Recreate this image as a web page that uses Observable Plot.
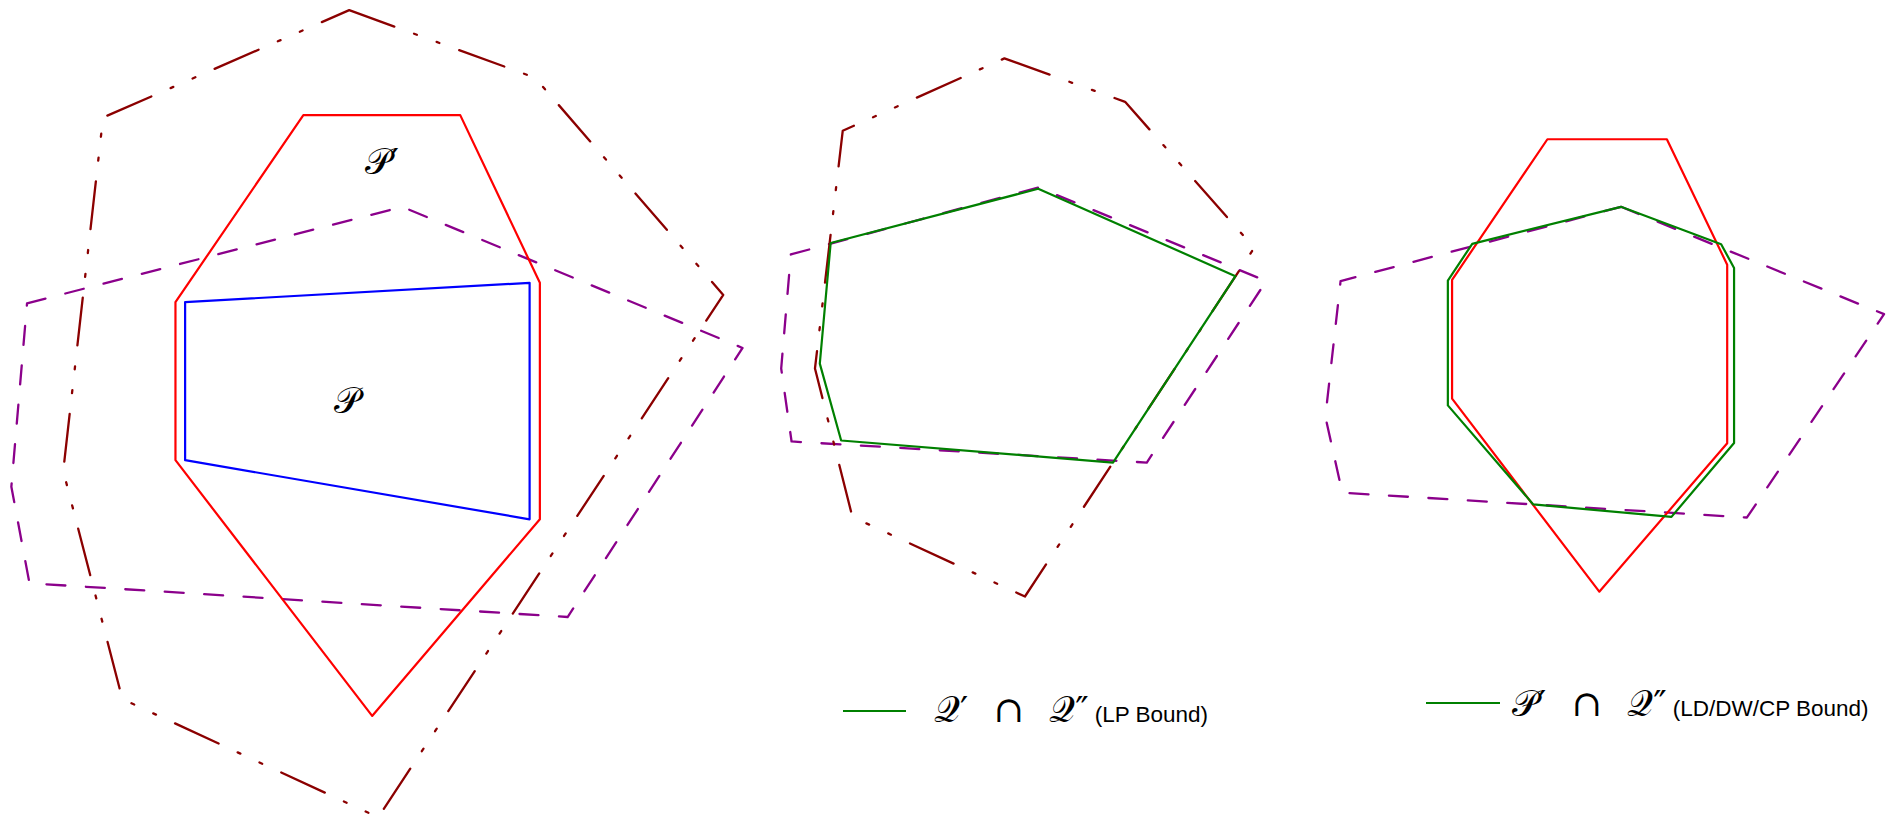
<!DOCTYPE html>
<html>
<head>
<meta charset="utf-8">
<script src="https://cdn.jsdelivr.net/npm/d3@7"></script>
<script src="https://cdn.jsdelivr.net/npm/@observablehq/plot@0.6"></script>
<style>
  html, body { margin: 0; padding: 0; background: #ffffff; }
  #wrap { position: relative; width: 1892px; height: 818px; overflow: hidden; background: #fff; }
  #wrap svg { display: block; }
  .lg-line { position: absolute; height: 2.4px; background: #008000; }
  .lg-text { position: absolute; white-space: pre; color: #000; line-height: 36px; }
  .lg-math { font-family: "DejaVu Serif", "DejaVu Sans", serif; font-size: 36px; word-spacing: 14px; }
  .lg-note { font-family: "Liberation Sans", Arial, sans-serif; font-size: 22.5px; margin-left: 6px; }
</style>
</head>
<body>
<div id="wrap"></div>
<script>
// ---- Data: polygon vertices (drawing units, x to the right, y downward) ----
// Panel 1
const p1_Qprime_x  = [289, 443, 599, 313, 101, 52, 85];          // Q' (dark red, dash-dot-dot)
const p1_Qprime_y  = [8, 64, 244, 677, 579, 390, 97];
const p1_Pprime_x  = [251, 381, 447, 447, 308, 145, 145];        // P' (red)
const p1_Pprime_y  = [95, 95, 234, 430, 593, 381, 250];
const p1_P_x       = [153, 438.5, 438.5, 153];                   // P (blue)
const p1_P_y       = [250, 234, 430, 381];
const p1_Qsecond_x = [22, 333, 615, 470, 24, 9];                 // Q'' (purple, dashed)
const p1_Qsecond_y = [251, 171, 288, 511, 483, 403];
// Panel 2
const p2_Qprime_x  = [832, 932, 1039, 849, 706, 675, 698];
const p2_Qprime_y  = [48, 84, 205, 494, 428, 305, 108];
const p2_Qsecond_x = [655, 860, 1049, 950, 655.6, 647];
const p2_Qsecond_y = [210.5, 155, 232.5, 383, 365.5, 305];
const p2_LP_x      = [860, 1023.5, 922, 696.7, 679, 688];         // Q' ∩ Q'' (green)
const p2_LP_y      = [156, 228.5, 383, 364.7, 301, 201];
// Panel 3
const p3_Pprime_x  = [1282, 1381, 1431, 1431, 1325, 1203, 1203];
const p3_Pprime_y  = [115, 115, 219, 367, 490, 330, 231.5];
const p3_Qsecond_x = [1343, 1561, 1447.4, 1112, 1098, 1110.6];
const p3_Qsecond_y = [171, 260, 428.5, 408, 345, 232.6];
const p3_LD_x      = [1343, 1426, 1436.7, 1436.7, 1384.8, 1270.3, 1199.5, 1199.5, 1219.7]; // P' ∩ Q'' (green)
const p3_LD_y      = [171, 202, 221.7, 366.7, 428, 417.7, 335.6, 232.2, 201.7];
// Labels
const labelText = ["\u{1D4AB}\u2032", "\u{1D4AB}"];
const labelX = [316, 287];
const labelY = [134, 332];
// Legend entries
const legendMath = ["\u{1D4AC}\u2032 \u2229 \u{1D4AC}\u2033", "\u{1D4AB}\u2032 \u2229 \u{1D4AC}\u2033"];
const legendNote = ["(LP Bound)", "(LD/DW/CP Bound)"];

// ---- Build tables ----
function poly(name, xs, ys) { return xs.map((x, i) => ({shape: name, x, y: ys[i]})); }
const qPrime  = [...poly("p1Q'", p1_Qprime_x, p1_Qprime_y), ...poly("p2Q'", p2_Qprime_x, p2_Qprime_y)];
const qSecond = [...poly("p1Q''", p1_Qsecond_x, p1_Qsecond_y), ...poly("p2Q''", p2_Qsecond_x, p2_Qsecond_y), ...poly("p3Q''", p3_Qsecond_x, p3_Qsecond_y)];
const pPrime  = [...poly("p1P'", p1_Pprime_x, p1_Pprime_y), ...poly("p3P'", p3_Pprime_x, p3_Pprime_y)];
const pBase   = poly("p1P", p1_P_x, p1_P_y);
const inter   = [...poly("p2LP", p2_LP_x, p2_LP_y), ...poly("p3LD", p3_LD_x, p3_LD_y)];
const labels  = labelText.map((t, i) => ({t, x: labelX[i], y: labelY[i]}));

const W = 1892, H = 818;
const chart = Plot.plot({
  width: W, height: H,
  margin: 0,
  x: {domain: [0, 1568], range: [0, W], axis: null},
  y: {domain: [0, 678], range: [0, H], axis: null},
  style: {background: "#ffffff", overflow: "visible"},
  marks: [
    Plot.line(qSecond, {x: "x", y: "y", z: "shape", curve: "linear-closed", stroke: "#8b008b", strokeWidth: 2.3, strokeDasharray: "19,20.5"}),
    Plot.line(qPrime,  {x: "x", y: "y", z: "shape", curve: "linear-closed", stroke: "#8b0000", strokeWidth: 2.3, strokeDasharray: "48,21,3,21,3,21"}),
    Plot.line(pPrime,  {x: "x", y: "y", z: "shape", curve: "linear-closed", stroke: "#ff0000", strokeWidth: 2.2}),
    Plot.line(pBase,   {x: "x", y: "y", z: "shape", curve: "linear-closed", stroke: "#0000ff", strokeWidth: 2.2}),
    Plot.line(inter,   {x: "x", y: "y", z: "shape", curve: "linear-closed", stroke: "#008000", strokeWidth: 2.2}),
    Plot.text(labels,  {x: "x", y: "y", text: "t", fontSize: 36, fontFamily: "DejaVu Serif, DejaVu Sans, serif", fill: "#000", textAnchor: "middle", lineAnchor: "middle"})
  ]
});
const wrap = document.getElementById("wrap");
wrap.appendChild(chart);

// ---- Legend (HTML overlay) ----
const legendLayout = [
  {lineL: 843, lineR: 906, lineY: 711, textL: 934, top: 692},
  {lineL: 1426, lineR: 1500, lineY: 703, textL: 1512, top: 686}
];
legendLayout.forEach((L, i) => {
  const ln = document.createElement("div");
  ln.className = "lg-line";
  ln.style.left = L.lineL + "px"; ln.style.width = (L.lineR - L.lineL) + "px"; ln.style.top = (L.lineY - 1) + "px";
  wrap.appendChild(ln);
  const t = document.createElement("div");
  t.className = "lg-text";
  t.style.left = L.textL + "px"; t.style.top = L.top + "px";
  const m = document.createElement("span");
  m.className = "lg-math"; m.textContent = legendMath[i];
  const n = document.createElement("span");
  n.className = "lg-note"; n.textContent = legendNote[i];
  t.appendChild(m); t.appendChild(n);
  wrap.appendChild(t);
});
</script>
</body>
</html>
